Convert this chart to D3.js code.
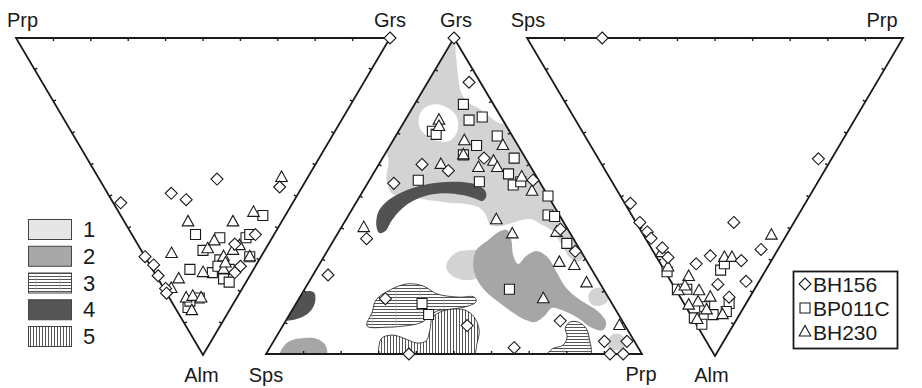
<!DOCTYPE html>
<html>
<head>
<meta charset="utf-8">
<script src="https://cdn.jsdelivr.net/npm/d3@7"></script>
<style>
  body { margin: 0; background: #fff; }
  text { font-family: Arial, "Liberation Sans", sans-serif; fill: #1a1a1a; }
</style>
</head>
<body>
<svg id="chart" width="922" height="388"></svg>
<script>
// ---- data ----
// left diagram: [Alm, Grs] (Prp = 100 - Alm - Grs)
const leftBH156 = [[52,2],[49,17],[51,20],[44.5,31.5],[47,47],[69,0],[71.6,1],[75,0.5],[79,0.5],[80.5,0],[62,33],[72,24],[74,21.5],[65,26],[0,100]];
const leftBP011C = [[56,38],[62,17],[63,23],[63,30],[67,16.5],[73,10],[74,15.5],[70,19.5],[73,20.5],[76,17.5],[77,18.5],[69,28],[72,18],[82,8],[85,3.5],[83,5],[62,31.5]];
const leftBH230 = [[44,49],[58,17],[58,29],[55,36],[68,7.6],[66.5,18],[64,21],[69,21],[67,24.5],[65.5,27],[69,28],[73,19],[74,13],[76,5.5],[79,2],[82,4.5],[81.5,6.5],[82,8.5],[86,4],[71,20.5]];

// middle diagram: [Grs, Prp] (Sps = 100 - Grs - Prp)
const midBH156 = [[100,0],[86,11],[60,11.5],[58,19.5],[54,7],[62,27],[55,43.5],[39.5,58.5],[32.5,66],[10.5,73],[9,49],[2,65],[4,88],[4,94],[0,91.5],[0,95],[36.5,8.5],[25,4],[17.5,23],[0,38]];
const midBP011C = [[79,13],[74,17],[75,20],[70.5,9],[69.5,10.5],[69,27],[66,23],[63,21],[62,35],[57,36],[53.5,39],[55,13],[54.5,29.5],[50,50],[44,53],[43.5,55],[35,62.5],[20.5,54.5],[16,33.5],[12.5,37],[54.5,40.5]];
const midBH230 = [[74,9],[72,10],[67.5,19],[63,21],[60,16.5],[59,27],[61,30],[59,32],[66,30],[56,40],[51.5,45],[42.5,40],[38,46.5],[38.5,58],[29,63.5],[28,68],[22.5,74],[17.5,65],[9,89.5],[40,6]];

// right diagram: [Alm, Prp] (Sps = 100 - Alm - Prp)
const rightBH156 = [[0,20],[38,58.5],[52,1.5],[58,1],[61,1.5],[63,1.5],[66,3],[69,3],[58,26],[66.5,29],[68.5,14.5],[71,9.5],[70,22],[77.5,12],[76.5,20],[81.5,13]];
const rightBP011C = [[73,15],[71,17],[73.5,0.5],[79,0.5],[79,3],[83.5,12],[87,6],[90,1.5],[88,0.5],[84.5,5],[86,10]];
const rightBH230 = [[62,34],[69,18],[69,20],[67.5,2],[72,1.5],[75,5.5],[79.5,0.5],[78,3],[79.5,6],[81.5,8],[83,4],[85.5,5],[87,8.5],[88.5,1],[84,1]];

// fields in the middle diagram, [Grs, Prp]
const field1Main = [[98.5,0.8],[94.6,3.2],[88.3,6.9],[82.9,10.4],[79.7,13.8],[77.8,17.7],[75.3,21.6],[73.1,25.3],[72,29],[56.6,46.8],[38.6,63],[32.9,68.5],[29.4,68.9],[30.4,65.7],[34.8,61.1],[38.9,56.7],[40.8,53.1],[42.7,49],[41.8,45.4],[40.5,42.1],[40.8,39.3],[44.3,36.2],[46.5,33.2],[47.5,29.3],[47.8,25.2],[48.4,20.9],[49.1,16.5],[50,12.1],[50.6,8.4],[55.1,4.5],[60.8,2.2],[66.1,-1],[77,-1.5],[90,-1]];
const field1Hole = [[76.6,2.9],[78.6,4],[78.9,6.8],[77.2,10.6],[74.7,13.5],[70.6,15.6],[67.6,15.2],[67.3,12.3],[68.8,8.6],[72.2,4.6]];
const field1BlobA = [[29.1,33.7],[32,34.4],[32.9,37.9],[32.3,41.9],[30.4,43.9],[26.6,45],[24.1,44.4],[23.4,41.3],[24.7,37.2],[27.2,34.3]];
const field1BlobB = [[18.4,76.5],[20.6,76.7],[20.9,78.7],[19.3,81.4],[16.5,82.5],[15.2,81],[15.8,78.6]];
const field1BlobC = [[4.4,88.8],[6.3,89.2],[6.3,91],[4.1,93.7],[1.6,94.1],[1.3,91.9],[2.2,89.9]];
const field2Main = [[32.9,39.5],[36.1,41.1],[38.9,42.9],[39.2,44.6],[36.1,47.2],[31,50.3],[28.5,52.8],[31,53.7],[32.6,55.6],[30.7,59.5],[26.3,64],[20.9,69.4],[17.1,75],[13.9,80.9],[10.1,85.4],[7.6,85.9],[8.2,82.6],[11.4,77.3],[13.6,72.5],[14.6,68.8],[12.3,68.1],[10.1,66.5],[10.8,63.5],[13.3,58.8],[16.5,53.5],[19.6,48.8],[23.4,44.5],[28.2,41]];
const field2Blob = [[2.5,3.5],[4.4,4.7],[5.1,7.8],[4.7,11.5],[2.5,14.7],[-0.6,16.3],[-1.3,9.7],[-0.6,4]];
const field4Band = [[40.5,9.1],[44.9,7.4],[48.1,7.9],[50.6,9.9],[52.5,12.7],[53.8,16.3],[54.4,20.6],[54.4,25.1],[53.5,29.3],[51.9,32.2],[50,33.6],[48.4,33.4],[49.1,31.2],[50.3,27.1],[50.9,22.3],[50.3,18.1],[48.4,14.8],[45.6,13],[42.1,12.3],[38.9,12.3],[38.3,11]];
const field4Blob = [[19,0.1],[19.9,1.3],[19.3,3.2],[16.8,4.7],[13.9,5.1],[11.7,3.8],[10.8,-0.5],[15.5,-1.5]];
const field3A = [[8.9,22.4],[13.3,21.6],[17.1,20.7],[20.3,22.9],[22.2,26.5],[21.5,31.1],[19,36],[18,42.1],[18,46.4],[16.5,47.6],[15.2,46.2],[14.2,42.4],[13.6,38.7],[11.4,37.4],[9.8,36.1],[8.9,32.6],[8.5,28.2]];
const field3B = [[-1,75],[1.6,75.3],[2.8,77.6],[5.4,77.4],[8.2,75.5],[10.1,75.8],[10.1,78],[8.2,81],[5.1,83.4],[-1,86.6]];
const field5 = [[-1,31],[2.8,28.7],[5.1,28.3],[6,30.8],[4.7,34.9],[3.5,38.2],[4.1,40.5],[7.6,39.8],[11.4,38.5],[13.3,39.7],[14.2,42.4],[13.9,46],[11.7,49.5],[7.6,52.9],[3.5,54.4],[-1,55.3]];

const fieldLegend = ["1", "2", "3", "4", "5"];
const sampleNames = ["BH156", "BP011C", "BH230"];

// ---- layout ----
const svg = d3.select("#chart");
const defs = svg.append("defs");

const fieldFill = {
    "1": "#d3d3d3",
    "2": "#a6a6a6",
    "3": "url(#hatchH)",
    "4": "#525252",
    "5": "url(#hatchV)"
};
const legendFill = { "1": "#e6e6e6", "2": "#a8a8a8", "3": "url(#hatchH)", "4": "#555", "5": "url(#hatchV)" };

let hatchH = defs.append("pattern").attr("id", "hatchH")
    .attr("patternUnits", "userSpaceOnUse").attr("width", 24).attr("height", 3);
hatchH.append("rect").attr("width", 24).attr("height", 3).attr("fill", "#fff");
hatchH.append("line").attr("x1", 0).attr("x2", 24).attr("y1", 0.5).attr("y2", 0.5)
    .attr("stroke", "#2a2a2a").attr("stroke-width", 0.8);
hatchH.append("line").attr("x1", 12).attr("x2", 12).attr("y1", 0).attr("y2", 3)
    .attr("stroke", "#aaa").attr("stroke-width", 0.6);

let hatchV = defs.append("pattern").attr("id", "hatchV")
    .attr("patternUnits", "userSpaceOnUse").attr("width", 3).attr("height", 10);
hatchV.append("rect").attr("width", 3).attr("height", 10).attr("fill", "#fff");
hatchV.append("line").attr("x1", 0.5).attr("x2", 0.5).attr("y1", 0).attr("y2", 10)
    .attr("stroke", "#2a2a2a").attr("stroke-width", 0.8);

// each diagram: apex component scale (y) and a horizontal scale for the right-hand component
function ternary(xRange, yRange) {
    let x = d3.scaleLinear().domain([0, 100]).range(xRange);
    let y = d3.scaleLinear().domain([0, 100]).range(yRange);
    return d => [x(d[1] + d[0] / 2), y(d[0])];
}

// label anchors: [dx from vertex, baseline y, anchor] for left, right, apex vertex
const diagrams = [
    { pos: ternary([16, 390], [38, 355]), labels: ["Prp", "Grs", "Alm"],
      labelPos: [[-9, 27, "start"], [0, 27, "middle"], [-1.5, 382, "middle"]],
      sets: [leftBP011C, leftBH230, leftBH156] },
    { pos: ternary([266, 642], [354, 38]), labels: ["Sps", "Prp", "Grs"],
      labelPos: [[0, 382, "middle"], [-1, 381, "middle"], [2, 27, "middle"]],
      sets: [midBP011C, midBH230, midBH156] },
    { pos: ternary([527, 903], [38, 356]), labels: ["Sps", "Prp", "Alm"],
      labelPos: [[1, 27, "middle"], [-21, 27, "middle"], [-3.5, 382, "middle"]],
      sets: [rightBP011C, rightBH230, rightBH156] }
];

const symbolPath = {
    "BH156": "M0,-6L6,0L0,6L-6,0Z",
    "BP011C": "M-5,-5H5V5H-5Z",
    "BH230": "M0,-6.5L5.8,4L-5.8,4Z"
};
const setNames = ["BP011C", "BH230", "BH156"];

// ---- fields in middle diagram ----
const mid = diagrams[1];
const mv = [mid.pos([0, 0]), mid.pos([0, 100]), mid.pos([100, 0])];
defs.append("clipPath").attr("id", "midClip")
    .append("path").attr("d", "M" + mv.join("L") + "Z");

const blob = d3.line()
    .x(d => mid.pos(d)[0])
    .y(d => mid.pos(d)[1])
    .curve(d3.curveCatmullRomClosed.alpha(0.5));

const fields = [
    { key: "1", shapes: [field1Main, field1Hole] },
    { key: "1", shapes: [field1BlobA] },
    { key: "1", shapes: [field1BlobB] },
    { key: "1", shapes: [field1BlobC] },
    { key: "2", shapes: [field2Main] },
    { key: "2", shapes: [field2Blob] },
    { key: "4", shapes: [field4Band] },
    { key: "4", shapes: [field4Blob] },
    { key: "3", shapes: [field3A] },
    { key: "3", shapes: [field3B] },
    { key: "5", shapes: [field5] }
];

let fieldLayer = svg.append("g").attr("clip-path", "url(#midClip)");
fieldLayer.selectAll("path")
    .data(fields)
    .enter()
    .append("path")
    .attr("d", f => f.shapes.map(s => blob(s)).join(""))
    .attr("fill-rule", "evenodd")
    .attr("fill", f => fieldFill[f.key])
    .attr("stroke", f => (f.key == "3" || f.key == "5") ? "#222" : "none")
    .attr("stroke-width", 0.8);

// ---- triangles, ticks, labels ----
diagrams.forEach(dg => {
    let v = [dg.pos([0, 0]), dg.pos([0, 100]), dg.pos([100, 0])];
    let cx = (v[0][0] + v[1][0] + v[2][0]) / 3;
    let cy = (v[0][1] + v[1][1] + v[2][1]) / 3;
    let g = svg.append("g");

    // ticks every 10 %
    let ticks = [];
    [[0, 1], [1, 2], [2, 0]].forEach(e => {
        let a = v[e[0]], b = v[e[1]];
        let dx = b[0] - a[0], dy = b[1] - a[1];
        let len = Math.hypot(dx, dy);
        let nx = -dy / len, ny = dx / len;
        d3.range(1, 10).forEach(i => {
            let px = a[0] + dx * i / 10, py = a[1] + dy * i / 10;
            let s = ((cx - px) * nx + (cy - py) * ny) > 0 ? 1 : -1;
            ticks.push([px, py, px + s * nx * 3, py + s * ny * 3]);
        });
    });
    g.selectAll("line.tick")
        .data(ticks)
        .enter()
        .append("line")
        .attr("class", "tick")
        .attr("x1", d => d[0]).attr("y1", d => d[1])
        .attr("x2", d => d[2]).attr("y2", d => d[3])
        .attr("stroke", "#1a1a1a").attr("stroke-width", 1.4);

    g.append("path")
        .attr("d", "M" + v.join("L") + "Z")
        .attr("fill", "none")
        .attr("stroke", "#1a1a1a")
        .attr("stroke-width", 1.8)
        .attr("stroke-linejoin", "miter");

    g.selectAll("text.vertex")
        .data(dg.labels)
        .enter()
        .append("text")
        .attr("class", "vertex")
        .attr("x", (d, i) => v[i][0] + dg.labelPos[i][0])
        .attr("y", (d, i) => dg.labelPos[i][1])
        .attr("text-anchor", (d, i) => dg.labelPos[i][2])
        .attr("font-size", 20)
        .text(d => d);
});

// ---- sample points ----
diagrams.forEach(dg => {
    dg.sets.forEach((set, k) => {
        svg.append("g").selectAll("path")
            .data(set)
            .enter()
            .append("path")
            .attr("transform", d => "translate(" + dg.pos(d) + ")")
            .attr("d", symbolPath[setNames[k]])
            .attr("fill", "#fff")
            .attr("stroke", "#1a1a1a")
            .attr("stroke-width", 1.1);
    });
});

// ---- field legend ----
let fl = svg.append("g");
const boxY = d3.scaleLinear().domain([0, 4]).range([219, 326]);
fl.selectAll("rect")
    .data(fieldLegend)
    .enter()
    .append("rect")
    .attr("x", 28.5).attr("y", (d, i) => boxY(i) + 0.5)
    .attr("width", 43).attr("height", 20)
    .attr("fill", d => legendFill[d])
    .attr("stroke", "#444").attr("stroke-width", 1);
fl.selectAll("text")
    .data(fieldLegend)
    .enter()
    .append("text")
    .attr("x", 83).attr("y", (d, i) => boxY(i) + 18)
    .attr("font-size", 22)
    .text(d => d);

// ---- sample legend ----
let sl = svg.append("g");
sl.append("rect").attr("x", 793.5).attr("y", 271.5).attr("width", 104).attr("height", 77)
    .attr("fill", "#fff").attr("stroke", "#1a1a1a").attr("stroke-width", 1.8);
const rowY = d3.scaleLinear().domain([0, 2]).range([284, 332]);
sl.selectAll("path")
    .data(sampleNames)
    .enter()
    .append("path")
    .attr("transform", (d, i) => "translate(805," + rowY(i) + ")")
    .attr("d", d => symbolPath[d])
    .attr("fill", "#fff").attr("stroke", "#1a1a1a").attr("stroke-width", 1.1);
sl.selectAll("text")
    .data(sampleNames)
    .enter()
    .append("text")
    .attr("x", 813).attr("y", (d, i) => rowY(i) + 8)
    .attr("font-size", 21)
    .text(d => d);
</script>
</body>
</html>
